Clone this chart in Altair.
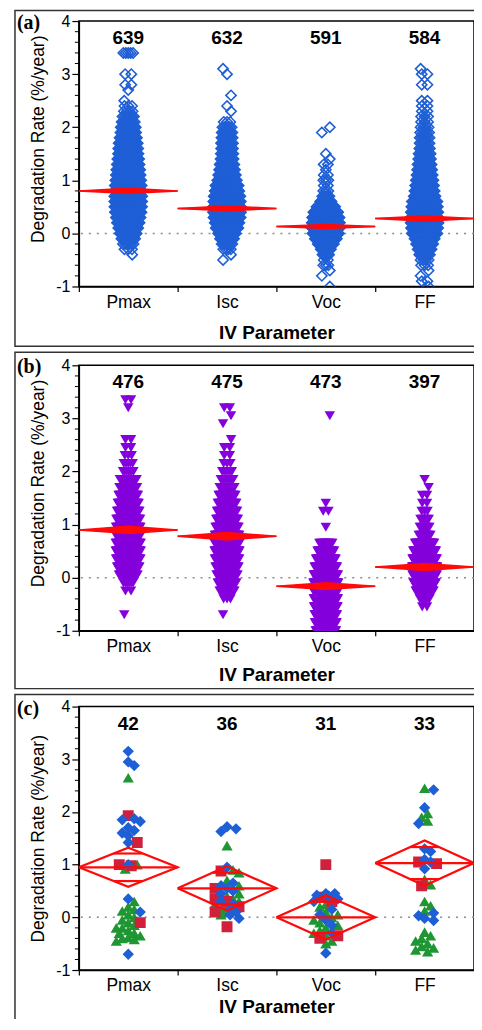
import math
import pandas as pd
import altair as alt

# ---------------- data ----------------
CATS = ["Pmax", "Isc", "Voc", "FF"]
N_A = [639, 632, 591, 584]
N_B = [476, 475, 473, 397]
N_C = [42, 36, 31, 33]

# (a) rate levels (%/year) and number of modules at each level
A_LEVELS = [3.4, 3.3, 3.2, 3.1, 3.0, 2.9, 2.8, 2.7, 2.6, 2.5,
            2.4, 2.3, 2.2, 2.1, 2.0, 1.9, 1.8, 1.7, 1.6, 1.5,
            1.4, 1.3, 1.2, 1.1, 1.0, 0.9, 0.8, 0.7, 0.6, 0.5,
            0.4, 0.3, 0.2, 0.1, 0.0, -0.1, -0.2, -0.3, -0.4, -0.5,
            -0.6, -0.7, -0.8, -0.9, -1.0]
A_PMAX = [5, 0, 0, 0, 2, 0, 2, 1, 0, 1,
          3, 4, 7, 9, 12, 13, 16, 19, 21, 22,
          25, 27, 30, 32, 35, 38, 40, 41, 41, 40,
          37, 32, 27, 21, 15, 10, 6, 3, 1, 0,
          0, 0, 0, 0, 0]
A_ISC = [0, 0, 0, 1, 1, 0, 0, 0, 1, 0,
         1, 1, 0, 3, 6, 8, 9, 10, 10, 11,
         12, 15, 18, 22, 27, 38, 42, 50, 53, 55,
         55, 52, 43, 36, 22, 14, 8, 4, 1, 1,
         0, 0, 0, 0, 0]
A_VOC = [0, 0, 0, 0, 0, 0, 0, 0, 0, 0,
         0, 0, 0, 0, 1, 1, 0, 0, 0, 1,
         1, 2, 1, 2, 3, 2, 3, 6, 15, 40,
         70, 85, 90, 90, 80, 55, 30, 12, 5, 2,
         3, 1, 1, 0, 1]
A_FF = [0, 0, 0, 1, 2, 0, 2, 0, 0, 2,
        2, 2, 3, 3, 4, 5, 6, 6, 7, 9,
        10, 12, 14, 16, 19, 22, 25, 29, 40, 43,
        46, 48, 48, 45, 40, 25, 18, 12, 7, 4,
        3, 1, 1, 2, 1]
A_MEAN = [0.80, 0.47, 0.13, 0.28]
A_CI = [0.05, 0.045, 0.04, 0.05]

# (b)
B_LEVELS = [3.35, 3.2, 3.05, 2.9, 2.75, 2.6, 2.45, 2.3, 2.15, 2.0,
            1.85, 1.7, 1.55, 1.4, 1.25, 1.1, 0.95, 0.8, 0.65, 0.5,
            0.35, 0.2, 0.05, -0.1, -0.25, -0.4, -0.55, -0.7, -0.85, -1.0]
B_PMAX = [2, 1, 0, 0, 0, 2, 2, 3, 5, 7,
          18, 20, 24, 28, 32, 36, 38, 40, 40, 40,
          38, 32, 22, 6, 2, 0, 0, 1, 0, 0]
B_ISC = [0, 2, 1, 1, 0, 1, 2, 2, 3, 6,
         10, 14, 18, 22, 26, 30, 34, 38, 40, 40,
         38, 34, 28, 22, 14, 3, 0, 1, 0, 0]
B_VOC = [0, 0, 1, 0, 0, 0, 0, 0, 0, 0,
         0, 0, 0, 1, 2, 0, 1, 0, 12, 20,
         28, 36, 42, 45, 45, 42, 40, 36, 34, 30]
B_FF = [0, 0, 0, 0, 0, 0, 0, 0, 0, 0,
        1, 1, 2, 2, 3, 6, 8, 12, 32, 45,
        52, 55, 52, 44, 28, 8, 2, 0, 0, 0]
B_MEAN = [0.90, 0.78, -0.16, 0.20]
B_CI = [0.07, 0.07, 0.065, 0.065]

# (c) individual modules, three groups
C_PMAX_BLUE = [3.15, 2.95, 2.88, 1.87, 1.85, 1.82, 1.7, 1.65, 1.6, 1.55, 1.42, 1.0, 0.35, 0.1, -0.7]
C_PMAX_GREEN = [2.65, 1.0, 0.92, 0.3, 0.2, 0.15, 0.12, 0.05, 0.0, -0.05, -0.1, -0.15, -0.2,
                -0.2, -0.25, -0.3, -0.3, -0.35, -0.38, -0.4, -0.42, -0.45]
C_PMAX_RED = [1.93, 1.42, 1.0, 0.98, -0.1]
C_ISC_BLUE = [1.72, 1.68, 1.63, 0.95, 0.65, 0.6, 0.55, 0.5, 0.45, 0.3, 0.25, 0.15, 0.1, 0.05, -0.02]
C_ISC_GREEN = [1.36, 0.9, 0.85, 0.7, 0.6, 0.45, 0.4, 0.35, 0.3, 0.25, 0.2, 0.15, 0.1, 0.05]
C_ISC_RED = [0.88, 0.55, 0.35, 0.3, 0.2, 0.1, -0.18]
C_VOC_BLUE = [0.45, 0.45, 0.42, 0.4, 0.35, 0.3, 0.15, 0.05, -0.05, -0.15, -0.3, -0.68]
C_VOC_GREEN = [0.25, 0.2, 0.1, 0.05, 0.0, -0.05, -0.1, -0.15, -0.2, -0.25, -0.3, -0.35, -0.45, -0.5]
C_VOC_RED = [1.0, 0.38, 0.3, -0.35, -0.4]
C_FF_BLUE = [2.42, 2.08, 1.78, 1.3, 1.25, 1.1, 1.05, 0.92, 0.08, 0.03, -0.02, -0.06]
C_FF_GREEN = [2.45, 1.97, 1.9, 1.83, 0.72, 0.62, 0.3, 0.22, 0.12, -0.28, -0.35, -0.4, -0.45,
              -0.5, -0.55, -0.58, -0.62, -0.65]
C_FF_RED = [1.05, 1.02, 0.6]
C_MEAN = [0.95, 0.55, 0.0, 1.03]
C_CI = [0.37, 0.42, 0.42, 0.43]

MINOR_TICKS = [-0.8, -0.6, -0.4, -0.2, 0.2, 0.4, 0.6, 0.8, 1.2, 1.4, 1.6, 1.8,
               2.2, 2.4, 2.6, 2.8, 3.2, 3.4, 3.6, 3.8]

BLUE = "#1f5fd6"
PURPLE = "#8400dc"
GREEN = "#1e9632"
SQRED = "#d0203c"
RED = "#ff0a0a"
FONT = "Liberation Sans"
W = 396  # plot width in px

# ---------------- layout helpers (jitter like the original) ----------------
def rows_to_points(levels, counts_by_cat, half_px):
    recs = []
    unit = W / 4.0
    for ci, counts in enumerate(counts_by_cat):
        nmax = max(counts)
        for li, (lv, n) in enumerate(zip(levels, counts)):
            if n == 0:
                continue
            if n == 1:
                offs = [((li % 3) - 1) * 4.0]
            else:
                w = half_px * math.sqrt(n / nmax)
                offs = [-w + 2 * w * k / (n - 1) for k in range(n)]
            for o in offs:
                recs.append({"x": ci + 0.5 + o / unit, "y": lv})
    return pd.DataFrame(recs)


def swarm(vals, step=3.0, dist=6.5, ypx=53.0, maxoff=14.0):
    cands = [0.0]
    k = 1
    while k * step <= maxoff:
        cands += [k * step, -k * step]
        k += 1
    placed, offs = [], []
    for v in vals:
        y = v * ypx
        best, bestd = 0.0, -1.0
        for c in cands:
            d = min([math.hypot(c - px, y - py) for px, py in placed], default=1e9)
            if d >= dist:
                best = c
                break
            if d > bestd:
                best, bestd = c, d
        placed.append((best, y))
        offs.append(best)
    return offs


def c_points():
    groups = [
        (C_PMAX_BLUE, C_PMAX_GREEN, C_PMAX_RED),
        (C_ISC_BLUE, C_ISC_GREEN, C_ISC_RED),
        (C_VOC_BLUE, C_VOC_GREEN, C_VOC_RED),
        (C_FF_BLUE, C_FF_GREEN, C_FF_RED),
    ]
    order = {"G": 0, "R": 1, "B": 2}
    unit = W / 4.0
    recs = []
    for ci, (bl, gr, rd) in enumerate(groups):
        items = [(v, "B") for v in bl] + [(v, "G") for v in gr] + [(v, "R") for v in rd]
        items.sort(key=lambda t: -t[0])
        offs = swarm([v for v, _ in items])
        for (v, g), o in zip(items, offs):
            recs.append({"x": ci + 0.5 + o / unit, "y": v, "g": g, "z": order[g]})
    df = pd.DataFrame(recs)
    return df.sort_values("z", kind="stable").reset_index(drop=True)


def diamond_lines(means, cis, overlap):
    recs = []
    k = 1 / math.sqrt(2)
    for i, (m, h) in enumerate(zip(means, cis)):
        c = i + 0.5
        pts = [(c - 0.5, m), (c, m + h), (c + 0.5, m), (c, m - h), (c - 0.5, m)]
        for o, (x, y) in enumerate(pts):
            recs.append({"seg": f"d{i}", "o": o, "x": x, "y": y})
        for o, x in enumerate([c - 0.5, c + 0.5]):
            recs.append({"seg": f"m{i}", "o": o, "x": x, "y": m})
        if overlap:
            hw = 0.5 * (1 - k)
            for s, nm in ((1, "u"), (-1, "l")):
                for o, x in enumerate([c - hw, c + hw]):
                    recs.append({"seg": f"{nm}{i}", "o": o, "x": x, "y": m + s * h * k})
    return pd.DataFrame(recs)


def lens(means, cis):
    recs = []
    for i, (m, h) in enumerate(zip(means, cis)):
        c = i + 0.5
        recs += [{"cat": i, "x": c - 0.5, "lo": m, "hi": m},
                 {"cat": i, "x": c, "lo": m - h, "hi": m + h},
                 {"cat": i, "x": c + 0.5, "lo": m, "hi": m}]
    return pd.DataFrame(recs)


# ---------------- encodings ----------------
def X(field="x", title_y=47):
    return alt.X(f"{field}:Q",
                 scale=alt.Scale(domain=[0, 4], nice=False, zero=False),
                 axis=alt.Axis(values=[0, 1, 2, 3],
                               labelExpr="['Pmax','Isc','Voc','FF'][datum.value]",
                               labelOffset=W / 8.0, labelFlush=False, labelOverlap=False,
                               tickSize=5, labelPadding=2, labelFontSize=17.5,
                               title="IV Parameter", titleFontSize=19, titleFontWeight="bold",
                               titleY=title_y, titleBaseline="middle"))


def Y(field, title_y):
    return alt.Y(f"{field}:Q",
                 scale=alt.Scale(domain=[-1, 4], nice=False, zero=False),
                 axis=alt.Axis(values=[-1, 0, 1, 2, 3, 4], labelExpr="'' + datum.value",
                               tickSize=7, labelPadding=2, labelFontSize=16,
                               title="Degradation Rate (%/year)", titleFontSize=17.5,
                               titleFontWeight="normal", titleX=-40, titleY=title_y,
                               titleAlign="center", titleBaseline="middle"))


def panel(label, counts, point_layer, means, cis, filled_lens, title_y, xtitle_y,
          rect_y1, rect_y2, height):
    one = pd.DataFrame({"k": [0]})
    Xe = lambda f: X(f, xtitle_y)
    border = alt.Chart(one).mark_rect(fillOpacity=0, stroke="#333333", strokeWidth=1.5).encode(
        x=alt.value(-64), x2=alt.value(W + 4), y=alt.value(rect_y1), y2=alt.value(rect_y2))
    zero = alt.Chart(pd.DataFrame({"y": [0.0]})).mark_rule(
        color="#8c8c8c", strokeDash=[2, 6], strokeWidth=1.5).encode(y=Y("y", title_y))
    minor = alt.Chart(pd.DataFrame({"y": MINOR_TICKS})).mark_rule(
        color="black", strokeWidth=1).encode(y=Y("y", title_y), x=alt.value(-4), x2=alt.value(0))
    layers = [border, zero, minor, point_layer(Xe, title_y)]
    if filled_lens:
        layers.append(alt.Chart(lens(means, cis)).mark_area(color=RED, opacity=1).encode(
            x=Xe("x"), y=Y("lo", title_y), y2="hi:Q", detail="cat:N"))
    layers.append(alt.Chart(diamond_lines(means, cis, not filled_lens)).mark_line(
        color=RED, strokeWidth=1.5 if filled_lens else 2.2).encode(
        x=Xe("x"), y=Y("y", title_y), detail="seg:N", order="o:Q"))
    cnt = pd.DataFrame({"x": [i + 0.5 for i in range(4)], "n": counts})
    layers.append(alt.Chart(cnt).mark_text(fontSize=19, fontWeight="bold", font=FONT,
                                           baseline="middle", color="black").encode(
        x=Xe("x"), y=alt.value(17), text="n:Q"))
    layers.append(alt.Chart(one).mark_text(text=label, font="Liberation Serif", fontSize=20,
                                           fontWeight="bold", align="left",
                                           baseline="alphabetic", color="black").encode(
        x=alt.value(-62), y=alt.value(8)))
    return alt.layer(*layers).properties(width=W, height=height)


df_a = rows_to_points(A_LEVELS, [A_PMAX, A_ISC, A_VOC, A_FF], 14.0)
df_b = rows_to_points(B_LEVELS, [B_PMAX, B_ISC, B_VOC, B_FF], 12.5)
df_c = c_points()


def pts_a(Xe, ty):
    return alt.Chart(df_a).mark_point(shape="diamond", filled=False, size=105, strokeWidth=1.6,
                                      color=BLUE, opacity=1, clip=True).encode(
        x=Xe("x"), y=Y("y", ty))


def pts_b(Xe, ty):
    return alt.Chart(df_b).mark_point(shape="triangle-down", filled=True, size=110,
                                      color=PURPLE, opacity=1, clip=True).encode(
        x=Xe("x"), y=Y("y", ty))


def pts_c(Xe, ty):
    return alt.Chart(df_c).mark_point(filled=True, opacity=1, clip=True).encode(
        x=Xe("x"), y=Y("y", ty),
        shape=alt.Shape("g:N", scale=alt.Scale(domain=["B", "G", "R"],
                                               range=["diamond", "triangle-up", "square"]), legend=None),
        color=alt.Color("g:N", scale=alt.Scale(domain=["B", "G", "R"],
                                               range=[BLUE, GREEN, SQRED]), legend=None),
        size=alt.Size("g:N", scale=alt.Scale(domain=["B", "G", "R"], range=[130, 120, 75]), legend=None),
        order=alt.Order("z:Q"))


pa = panel("(a)", N_A, pts_a, A_MEAN, A_CI, True, 118, 46, -10.5, 326, 266)
pb = panel("(b)", N_B, pts_b, B_MEAN, B_CI, True, 118, 44, -13, 324, 266)
pc = panel("(c)", N_C, pts_c, C_MEAN, C_CI, False, 132, 37, -12, 320, 264)

chart = alt.vconcat(pa, pb, pc, spacing=2).properties(
    padding={"left": 5, "top": 0, "right": -6, "bottom": -10}
).configure_view(stroke="black", strokeWidth=1.5).configure_axis(
    domainColor="black", tickColor="black", labelColor="black", titleColor="black",
    labelFont=FONT, titleFont=FONT, domainWidth=1.5, tickWidth=1.2, grid=False
).configure_text(font=FONT)

chart.save("out.html", embed_options={"renderer": "svg", "actions": False})
